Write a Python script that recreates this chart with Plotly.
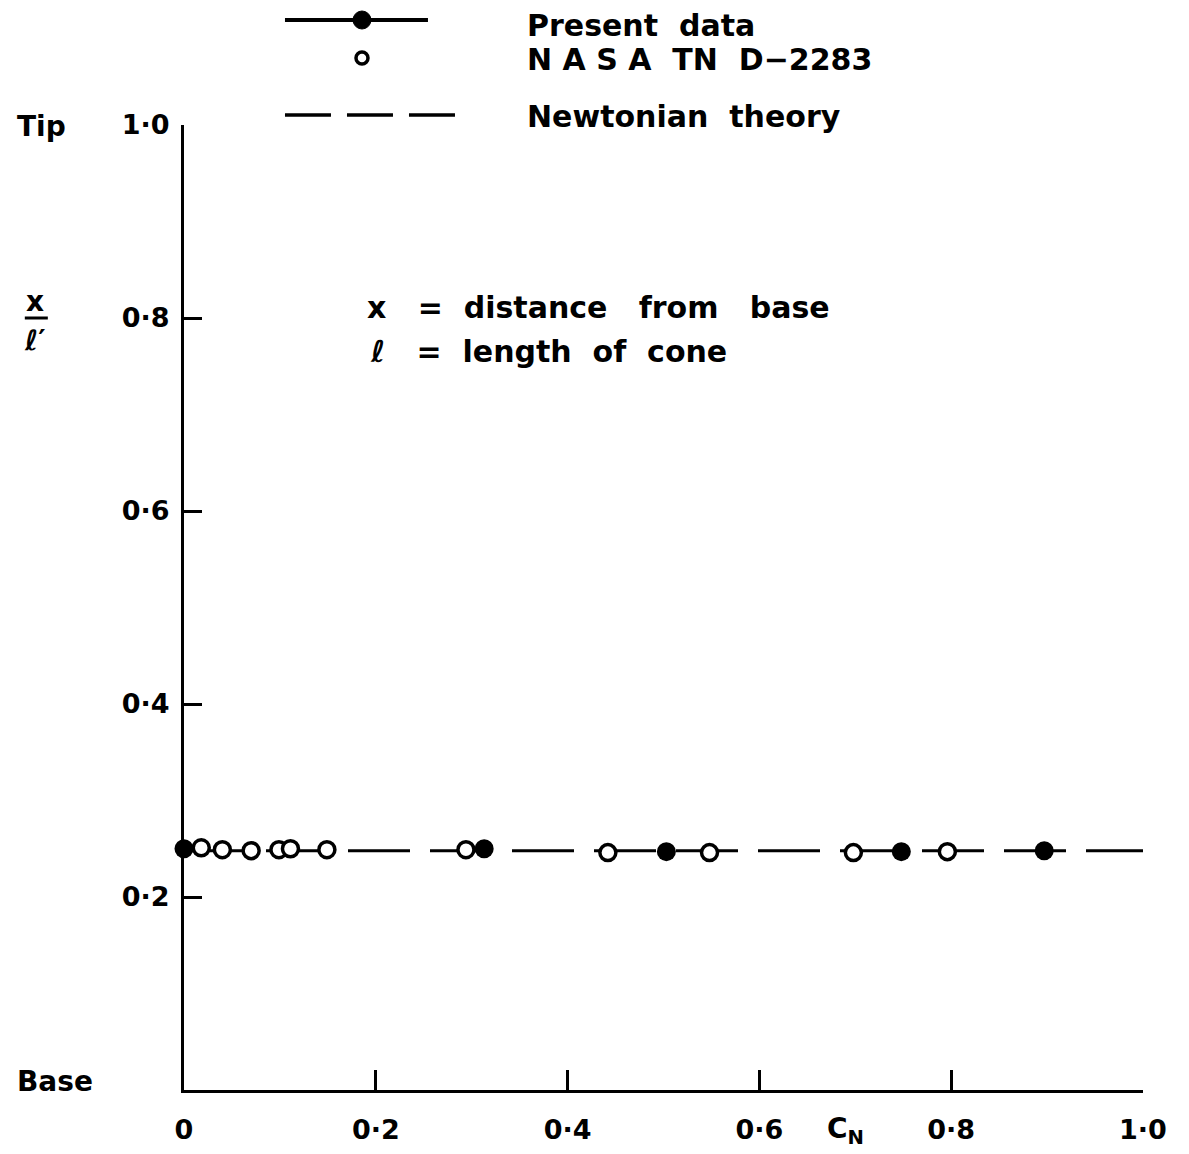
import plotly.graph_objects as go

# ---- data ----
present_cn = [0.0, 0.313, 0.503, 0.748, 0.897]
present_xl = [0.250, 0.250, 0.247, 0.247, 0.248]

nasa_cn = [0.018, 0.040, 0.070, 0.099, 0.111, 0.149, 0.294, 0.442, 0.548, 0.698, 0.796]
nasa_xl = [0.251, 0.249, 0.248, 0.249, 0.250, 0.249, 0.249, 0.246, 0.246, 0.246, 0.247]

newton_cn = [0.0, 1.0]
newton_xl = [0.248, 0.248]

x_tickvals = [0, 0.2, 0.4, 0.6, 0.8, 1.0]
x_ticktext = ["0", "0·2", "0·4", "0·6", "0·8", "1·0"]
y_tickvals = [0.2, 0.4, 0.6, 0.8, 1.0]
y_ticktext = ["0·2", "0·4", "0·6", "0·8", "1·0"]

FONT = "DejaVu Sans"
BLACK = "black"

fig = go.Figure()

fig.add_trace(go.Scatter(
    x=newton_cn, y=newton_xl, mode="lines",
    line=dict(color=BLACK, width=3, dash="62px,20px"),
    name="Newtonian theory", showlegend=False, cliponaxis=False))

fig.add_trace(go.Scatter(
    x=nasa_cn, y=nasa_xl, mode="markers",
    marker=dict(symbol="circle", size=16, color="white",
                line=dict(color=BLACK, width=3.5)),
    name="NASA TN D-2283", showlegend=False, cliponaxis=False))

fig.add_trace(go.Scatter(
    x=present_cn, y=present_xl, mode="markers",
    marker=dict(symbol="circle", size=19, color=BLACK),
    name="Present data", showlegend=False, cliponaxis=False))

axis_font = dict(family=FONT, size=27, color=BLACK, weight="bold")

fig.update_xaxes(range=[0, 1], tickvals=x_tickvals, ticktext=x_ticktext,
                 ticks="inside", ticklen=20, tickwidth=3, tickcolor=BLACK,
                 showline=True, linewidth=3, linecolor=BLACK,
                 showgrid=False, zeroline=False, tickfont=axis_font,
                 ticklabelstandoff=14, automargin=False)
fig.update_yaxes(range=[0, 1], tickvals=y_tickvals, ticktext=y_ticktext,
                 ticks="inside", ticklen=18, tickwidth=3, tickcolor=BLACK,
                 showline=True, linewidth=3, linecolor=BLACK,
                 showgrid=False, zeroline=False, tickfont=axis_font,
                 ticklabelstandoff=6, automargin=False)

txt_font = dict(family=FONT, size=30, color=BLACK, weight="bold")
NB = "\u00a0"

def ann(text, x, y, xanchor="left", size=None):
    f = dict(txt_font)
    if size:
        f["size"] = size
    fig.add_annotation(text=text, x=x, y=y, xref="paper", yref="paper",
                       xanchor=xanchor, yanchor="middle", showarrow=False, font=f)

# legend texts
ann("Present" + NB * 2 + "data", 0.3556, 1.1030)
ann("N" + NB + "A" + NB + "S" + NB + "A" + NB * 2 + "TN" + NB * 2 + "D−2283", 0.3556, 1.0674)
ann("Newtonian" + NB * 2 + "theory", 0.3556, 1.0083)

# note texts
ann("x" + NB * 3 + "=" + NB * 2 + "distance" + NB * 3 + "from" + NB * 3 + "base", 0.1887, 0.8104)
ann("ℓ" + NB * 3 + "=" + NB * 2 + "length" + NB * 2 + "of" + NB * 2 + "cone", 0.1919, 0.7648)

# side labels
ann("Tip", -0.1762, 0.998, size=28)
ann("Base", -0.1762, 0.0083, size=28)
ann("C<sub>N</sub>", 0.668, -0.042, size=28)
ann("x", -0.1554, 0.8175, xanchor="center", size=28)
ann("ℓ′", -0.1554, 0.777, xanchor="center", size=28)

# legend sample graphics
fig.add_shape(type="line", xref="paper", yref="paper", x0=0.1053, x1=0.2544,
              y0=1.1088, y1=1.1088, line=dict(color=BLACK, width=4))
fig.add_shape(type="circle", xref="paper", yref="paper", xsizemode="pixel", ysizemode="pixel",
              xanchor=0.1856, yanchor=1.1088, x0=-9, x1=9, y0=-9, y1=9,
              fillcolor=BLACK, line=dict(color=BLACK, width=1))
fig.add_shape(type="circle", xref="paper", yref="paper", xsizemode="pixel", ysizemode="pixel",
              xanchor=0.1856, yanchor=1.0694, x0=-6, x1=6, y0=-6, y1=6,
              fillcolor="white", line=dict(color=BLACK, width=3.5))
fig.add_shape(type="line", xref="paper", yref="paper", x0=0.1053, x1=0.2982,
              y0=1.0104, y1=1.0104, line=dict(color=BLACK, width=3.5, dash="46px,16px"))
# fraction bar for x / l
fig.add_shape(type="line", xref="paper", yref="paper", x0=-0.166, x1=-0.142,
              y0=0.8, y1=0.8, line=dict(color=BLACK, width=3))

# page body has an 8px margin; compensate so the plot area lands where the reference has it
fig.update_layout(width=1181, height=1146,
                  margin=dict(l=176, r=46, t=117, b=64),
                  paper_bgcolor="white", plot_bgcolor="white",
                  font=dict(family=FONT, color=BLACK), showlegend=False)

fig.write_html("out.html")
